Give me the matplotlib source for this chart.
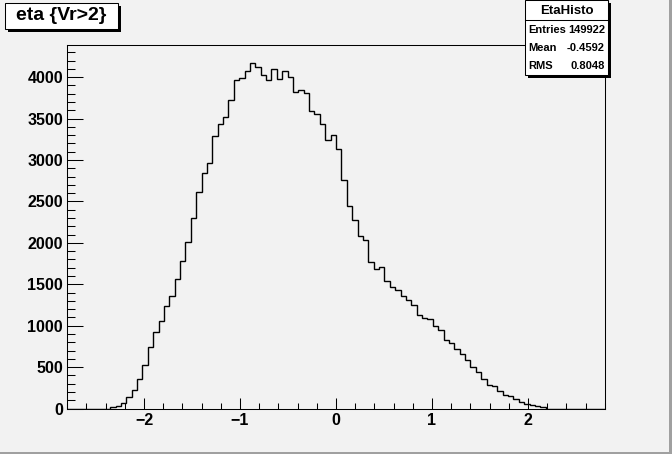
import matplotlib
matplotlib.use("Agg")
import matplotlib.pyplot as plt
from matplotlib import font_manager
from matplotlib.patches import Rectangle
from matplotlib.ticker import MultipleLocator
import numpy as np


W, H = 672, 454
BG = "#f2f2f2"
FONT = "Liberation Sans"

# histogram definition: 100 bins from -2.8 to 2.8
x_low, x_high, n_bins = -2.8, 2.8, 100

counts = [
    0, 0, 0, 0, 0, 0, 0, 0,
    14, 26, 63, 135, 223, 352, 521, 738, 919, 1063, 1244, 1365,
    1570, 1787, 2016, 2306, 2611, 2848, 2969, 3286, 3439, 3523,
    3720, 3961, 3994, 4070, 4175, 4126, 4030, 3969, 4102, 3981,
    4078, 4006, 3825, 3845, 3813, 3596, 3560, 3439, 3246, 3306,
    3138, 2755, 2442, 2281, 2088, 2040, 1775, 1679, 1715, 1546,
    1473, 1437, 1365, 1305, 1256, 1124, 1088, 1076, 1003, 943,
    834, 786, 714, 654, 581, 497, 437, 352, 283, 268,
    207, 159, 147, 111, 78, 54, 38, 26, 14,
    0, 0, 0, 0, 0, 0, 0, 0, 0, 0, 0,
]

title = "eta {Vr>2}"
stats_name = "EtaHisto"
stats_labels = ["Entries", "Mean", "RMS"]
stats_values = ["149922", "-0.4592", "0.8048"]

# ROOT's stats font is rather narrow; use the narrow face when present
installed = {f.name for f in font_manager.fontManager.ttflist}
if "Liberation Sans Narrow" in installed:
    STATS_FONT, STATS_SIZE = "Liberation Sans Narrow", 10
else:
    STATS_FONT, STATS_SIZE = FONT, 8.0


def fx(x):
    return x / W


def fy(y):
    return 1 - y / H


def box(fig, x0, y0, x1, y1, shadow=3):
    # ROOT style pave: black shadow bottom-right, white box on top
    fig.add_artist(Rectangle((fx(x0 + shadow), fy(y1 + shadow)),
                             (x1 - x0) / W, (y1 - y0) / H,
                             transform=fig.transFigure, facecolor="black",
                             edgecolor="none"))
    fig.add_artist(Rectangle((fx(x0), fy(y1)), (x1 - x0) / W, (y1 - y0) / H,
                             transform=fig.transFigure, facecolor="white",
                             edgecolor="black", lw=0.75))


fig = plt.figure(figsize=(W / 100, H / 100), dpi=100, facecolor=BG)
ax = fig.add_axes([0.1, 0.1, 0.8, 0.8], facecolor=BG)

edges = np.linspace(x_low, x_high, n_bins + 1)
ax.stairs(counts, edges, color="black", lw=1.0)
ax.set_xlim(x_low, x_high)
ax.set_ylim(0, 1.05 * max(counts))

ax.xaxis.set_major_locator(MultipleLocator(1))
ax.xaxis.set_minor_locator(MultipleLocator(0.2))
ax.yaxis.set_major_locator(MultipleLocator(500))
ax.yaxis.set_minor_locator(MultipleLocator(100))
ax.tick_params(which="both", direction="in", top=False, right=False,
               width=0.75, color="black")
ax.tick_params(axis="y", which="major", length=11.5, pad=3)
ax.tick_params(axis="y", which="minor", length=5.8)
ax.tick_params(axis="x", which="major", length=7.9, pad=3)
ax.tick_params(axis="x", which="minor", length=4)
for lab in ax.get_xticklabels() + ax.get_yticklabels():
    lab.set_fontfamily(FONT)
    lab.set_fontweight("bold")
    lab.set_fontsize(11.5)
for sp in ax.spines.values():
    sp.set_linewidth(0.75)
    sp.set_color("black")

# title pave
box(fig, 5, 3, 118, 29)
fig.text(fx(61.5), fy(16), title, ha="center", va="center", family=FONT,
         fontweight="bold", fontsize=14)

# stats pave
box(fig, 525, 0, 608, 75)
fig.add_artist(plt.Line2D([fx(525), fx(608)], [fy(20), fy(20)],
                          transform=fig.transFigure, color="black", lw=0.75))
fig.text(fx(566.5), fy(10.5), stats_name, ha="center", va="center",
         family=STATS_FONT, fontweight="bold", fontsize=STATS_SIZE + 1.5)
for i, (lab, val) in enumerate(zip(stats_labels, stats_values)):
    yy = fy(30 + 18 * i)
    fig.text(fx(528.5), yy, lab, ha="left", va="center", family=STATS_FONT,
             fontweight="bold", fontsize=STATS_SIZE)
    fig.text(fx(605), yy, val, ha="right", va="center", family=STATS_FONT,
             fontweight="bold", fontsize=STATS_SIZE)

# window border, right and bottom
fig.add_artist(Rectangle((fx(669), 0), 3 / W, 1, transform=fig.transFigure,
                         facecolor="#a0a0a0", edgecolor="none"))
fig.add_artist(Rectangle((0, 0), 1, 2 / H, transform=fig.transFigure,
                         facecolor="#a0a0a0", edgecolor="none"))

fig.savefig("out.png", dpi=100, facecolor=BG)
